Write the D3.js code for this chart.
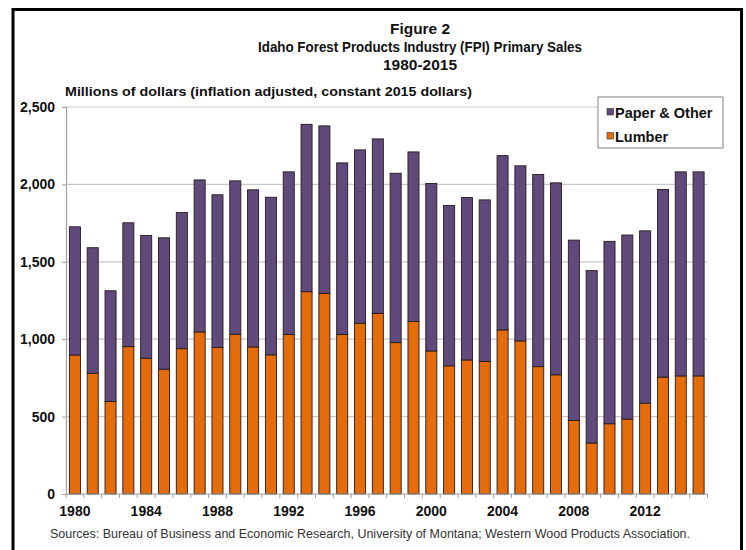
<!DOCTYPE html>
<html>
<head>
<meta charset="utf-8">
<script src="https://cdn.jsdelivr.net/npm/d3@7"></script>
<style>
  body { margin: 0; background: #fff; }
  svg { display: block; font-family: Arial, "Liberation Sans", sans-serif; }
</style>
</head>
<body>
<svg id="chart" width="746" height="550"></svg>
<script>
const years = d3.range(1980, 2016);
const totals = [1726, 1591, 1313, 1752, 1670, 1655, 1819, 2029, 1933, 2023, 1965, 1917,
                2081, 2388, 2378, 2139, 2223, 2294, 2072, 2210, 2006, 1864, 1915, 1900,
                2186, 2120, 2064, 2010, 1640, 1443, 1632, 1673, 1700, 1967, 2081, 2081];
const lumber = [898, 780, 598, 952, 877, 806, 939, 1047, 946, 1032, 950, 899,
                1030, 1307, 1296, 1030, 1103, 1167, 978, 1114, 924, 828, 866, 856,
                1060, 989, 823, 770, 475, 329, 454, 484, 587, 755, 763, 763];
const paper = totals.map((t, i) => t - lumber[i]);
const yTicks = [0, 500, 1000, 1500, 2000, 2500];
const xLabelYears = [1980, 1984, 1988, 1992, 1996, 2000, 2004, 2008, 2012];
const seriesNames = ["Lumber", "Paper & Other"];
const colors = { "Lumber": "#e46c0a", "Paper & Other": "#604a7b" };

const table = years.map((y, i) => ({ year: y, "Lumber": lumber[i], "Paper & Other": paper[i] }));

const svg = d3.select("#chart");
const plotL = 66, plotR = 707.5, plotT = 107, plotB = 494;

// frame
svg.append("path")
  .attr("d", `M13,560 L13,9.5 L741.5,9.5 L741.5,560`)
  .attr("fill", "none").attr("stroke", "#000").attr("stroke-width", 3);

const x = d3.scaleBand().domain(years).range([plotL, plotR]).paddingInner(0.38).paddingOuter(0.19);
const y = d3.scaleLinear().domain([0, 2500]).range([plotB, plotT]);

// gridlines
svg.append("g").selectAll("line").data(yTicks.filter(d => d > 0)).join("line")
  .attr("x1", plotL).attr("x2", plotR)
  .attr("y1", d => y(d)).attr("y2", d => y(d))
  .attr("stroke", "#c8c8c8").attr("stroke-width", 1.2);

// bars
const stack = d3.stack().keys(seriesNames)(table);
svg.append("g").selectAll("g").data(stack).join("g")
  .attr("fill", d => colors[d.key])
  .selectAll("rect").data(d => d).join("rect")
  .attr("x", d => x(d.data.year))
  .attr("width", x.bandwidth())
  .attr("y", d => y(d[1]))
  .attr("height", d => y(d[0]) - y(d[1]))
  .attr("stroke", "#2a1a1a").attr("stroke-width", 0.9);

// y axis
const yAxis = svg.append("g").attr("transform", `translate(${plotL},0)`)
  .call(d3.axisLeft(y).tickValues(yTicks).tickSize(4).tickPadding(7).tickFormat(d3.format(",")));
yAxis.select(".domain").attr("stroke", "#a0a0a0").attr("stroke-width", 1.2);
yAxis.selectAll(".tick line").attr("stroke", "#a0a0a0");
yAxis.selectAll("text").attr("font-size", 14).attr("font-weight", "bold").attr("fill", "#111")
  .attr("font-family", "Arial, 'Liberation Sans', sans-serif");

// x axis line and boundary ticks
svg.append("line").attr("x1", plotL).attr("x2", plotR).attr("y1", plotB).attr("y2", plotB)
  .attr("stroke", "#a0a0a0").attr("stroke-width", 1.2);
const step = x.step();
svg.append("g").selectAll("line").data(d3.range(years.length + 1)).join("line")
  .attr("x1", i => plotL + i * step).attr("x2", i => plotL + i * step)
  .attr("y1", plotB).attr("y2", plotB + 4)
  .attr("stroke", "#a0a0a0");
svg.append("g").selectAll("text").data(xLabelYears).join("text")
  .attr("x", d => x(d) + x.bandwidth() / 2)
  .attr("y", 516)
  .attr("text-anchor", "middle")
  .attr("font-size", 14).attr("font-weight", "bold").attr("fill", "#111")
  .text(d => d);

// titles
const titles = ["Figure 2", "Idaho Forest Products Industry (FPI) Primary Sales", "1980-2015"];
const titleWidths = [60, 324, 74];
svg.append("g").selectAll("text").data(titles).join("text")
  .attr("x", 420).attr("y", (d, i) => 34 + i * 18)
  .attr("text-anchor", "middle")
  .attr("font-size", 15.5).attr("font-weight", "bold").attr("fill", "#111")
  .attr("textLength", (d, i) => titleWidths[i]).attr("lengthAdjust", "spacingAndGlyphs")
  .text(d => d);

svg.append("text").attr("x", 65).attr("y", 96)
  .attr("font-size", 13.5).attr("font-weight", "bold").attr("fill", "#111")
  .attr("textLength", 407).attr("lengthAdjust", "spacingAndGlyphs")
  .text("Millions of dollars (inflation adjusted, constant 2015 dollars)");

// legend
const lg = svg.append("g");
lg.append("rect").attr("x", 598).attr("y", 97).attr("width", 125).attr("height", 51)
  .attr("fill", "#fff").attr("stroke", "#808080").attr("stroke-width", 1);
const legendItems = ["Paper & Other", "Lumber"];
legendItems.forEach((name, i) => {
  const ly = 113 + i * 24;
  lg.append("rect").attr("x", 607).attr("y", ly - 4.5).attr("width", 6.5).attr("height", 6.5)
    .attr("fill", colors[name]).attr("stroke", "#333").attr("stroke-width", 0.6);
  lg.append("text").attr("x", 615).attr("y", ly + 5)
    .attr("font-size", 14.5).attr("font-weight", "bold").attr("fill", "#111")
    .text(name);
});

// source
svg.append("text").attr("x", 50).attr("y", 538)
  .attr("font-size", 12).attr("fill", "#333")
  .attr("textLength", 640).attr("lengthAdjust", "spacingAndGlyphs")
  .text("Sources: Bureau of Business and Economic Research, University of Montana; Western Wood Products Association.");
</script>
</body>
</html>
